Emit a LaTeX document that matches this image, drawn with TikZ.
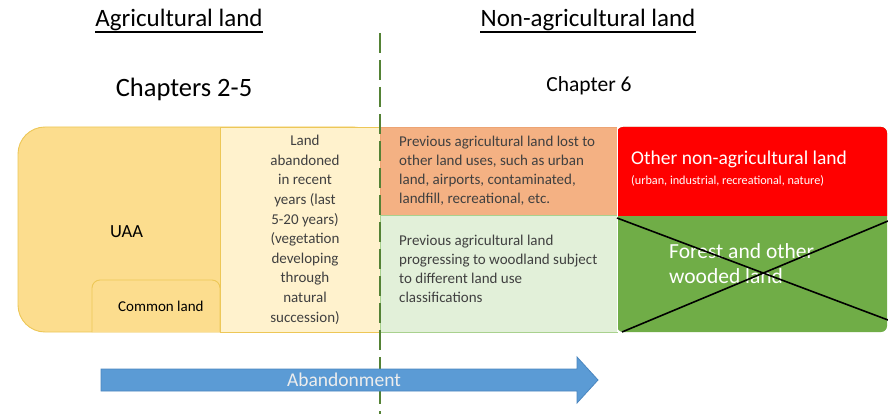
\documentclass[tikz,border=0pt]{standalone}
\usepackage{fontspec}
\setmainfont{Carlito}
\usetikzlibrary{calc}

\definecolor{uaafill}{HTML}{FCDD8E}
\definecolor{uaaedge}{HTML}{EDC757}
\definecolor{creamfill}{HTML}{FFF2CD}
\definecolor{lostfill}{HTML}{F4B183}
\definecolor{lostedge}{HTML}{EDA473}
\definecolor{woodfill}{HTML}{E2F0D9}
\definecolor{woodedge}{HTML}{A9D18E}
\definecolor{otherred}{HTML}{FF0000}
\definecolor{forestgreen}{HTML}{70AD47}
\definecolor{splitgreen}{HTML}{548235}
\definecolor{arrowblue}{HTML}{5B9BD5}
\definecolor{arrowedge}{HTML}{4A86BF}
\definecolor{celltext}{HTML}{404040}

\tikzset{
  heading/.style={anchor=base, inner sep=0pt, text=black, font=\fontsize{25}{30}\selectfont},
  celllabel/.style={anchor=base west, inner sep=0pt, text=celltext, align=left, font=\fontsize{15}{19}\selectfont},
  whitelabel/.style={anchor=base west, inner sep=0pt, text=white, align=left},
  region/.style={line width=0.9pt},
  divider/.style={draw=splitgreen, line width=2pt, dash pattern=on 20pt off 7pt},
  crossline/.style={draw=black, line width=1.6pt},
}

\begin{document}
\begin{tikzpicture}[x=1pt,y=-1pt]
\useasboundingbox (0,0) rectangle (888,414);
\fill[white] (0,0) rectangle (888,414);

% agricultural block (UAA + recently abandoned land)
\filldraw[region, fill=uaafill, draw=uaaedge, rounded corners=27pt] (18,127) rectangle (380,332);
\filldraw[region, fill=creamfill, draw=uaaedge] (220,127) rectangle (380,332);
\filldraw[region, fill=uaafill, draw=uaaedge, rounded corners=8pt] (92,332) -- (92,280) -- (220,280) -- (220,332);

% non-agricultural block
\filldraw[region, fill=lostfill, draw=lostedge] (380,127) rectangle (617,215);
\filldraw[region, fill=woodfill, draw=woodedge] (380,215) rectangle (617,332);
\fill[forestgreen, rounded corners=6pt] (617,127) rectangle (887,332);
\begin{scope}
  \clip (617,120) rectangle (888,215);
  \fill[otherred, rounded corners=6pt] (617,127) rectangle (887,332);
\end{scope}
\draw[white, line width=0.6pt] (617,127) -- (617,332);

% boundary between agricultural and non-agricultural land
\coordinate (divtop) at (380,33);
\coordinate (divbot) at (380,414);
\draw[divider] (divtop) -- (divbot);

% headings
\node[heading] (agri) at (179,27) {Agricultural land};
\node[heading] (nonagri) at (588,27) {Non-agricultural land};
\draw[line width=1.1pt] ([yshift=-5pt]agri.base west) -- ([yshift=-5pt]agri.base east);
\draw[line width=1.1pt] ([yshift=-5pt]nonagri.base west) -- ([yshift=-5pt]nonagri.base east);
\node[heading, font=\fontsize{26.5}{30}\selectfont] (chap25) at (184,97) {Chapters 2-5};
\node[heading, font=\fontsize{21.5}{26}\selectfont] (chap6) at (589,92) {Chapter 6};

% labels of the agricultural block
\node[celllabel, text=black, font=\fontsize{18.5}{22}\selectfont] (uaa) at (110,237) {UAA};
\node[celllabel, text=black] (common) at (118,311) {Common land};
\node[celllabel, anchor=north, align=center, font=\fontsize{15}{19.6}\selectfont] (recent) at (305,135)
  {Land\\abandoned\\in recent\\years (last\\5-20 years)\\(vegetation\\developing\\through\\natural\\succession)};

% labels of the non-agricultural block (multi-line nodes sit on their last baseline)
\node[celllabel] (lost) at (399,204)
  {Previous agricultural land lost to\\other land uses, such as urban\\land, airports, contaminated,\\landfill, recreational, etc.};
\node[celllabel] (wood) at (399,302)
  {Previous agricultural land\\progressing to woodland subject\\to different land use\\classifications};
\node[whitelabel, font=\fontsize{19.5}{22}\selectfont] (other) at (631,165) {Other non-agricultural land};
\node[whitelabel, font=\fontsize{12.2}{14}\selectfont] (othersub) at (631,185) {(urban, industrial, recreational, nature)};
\node[whitelabel, font=\fontsize{21.5}{25}\selectfont] (forest) at (669,283) {Forest and other\\wooded land};

% cross over the forest cell
\coordinate (xa) at (617,218);
\coordinate (xb) at (888,320);
\coordinate (xc) at (622,332);
\coordinate (xd) at (888,221);
\draw[crossline] (xa) -- (xb);
\draw[crossline] (xc) -- (xd);

% abandonment arrow
\filldraw[fill=arrowblue, draw=arrowedge, line width=0.8pt]
  (101,369) -- (577,369) -- (577,357) -- (598,380) -- (577,403) -- (577,391) -- (101,391) -- cycle;
\node[anchor=base, inner sep=0pt, text=white!93!black, font=\fontsize{19.5}{22}\selectfont] (aband) at (344,386) {Abandonment};
\end{tikzpicture}
\end{document}
